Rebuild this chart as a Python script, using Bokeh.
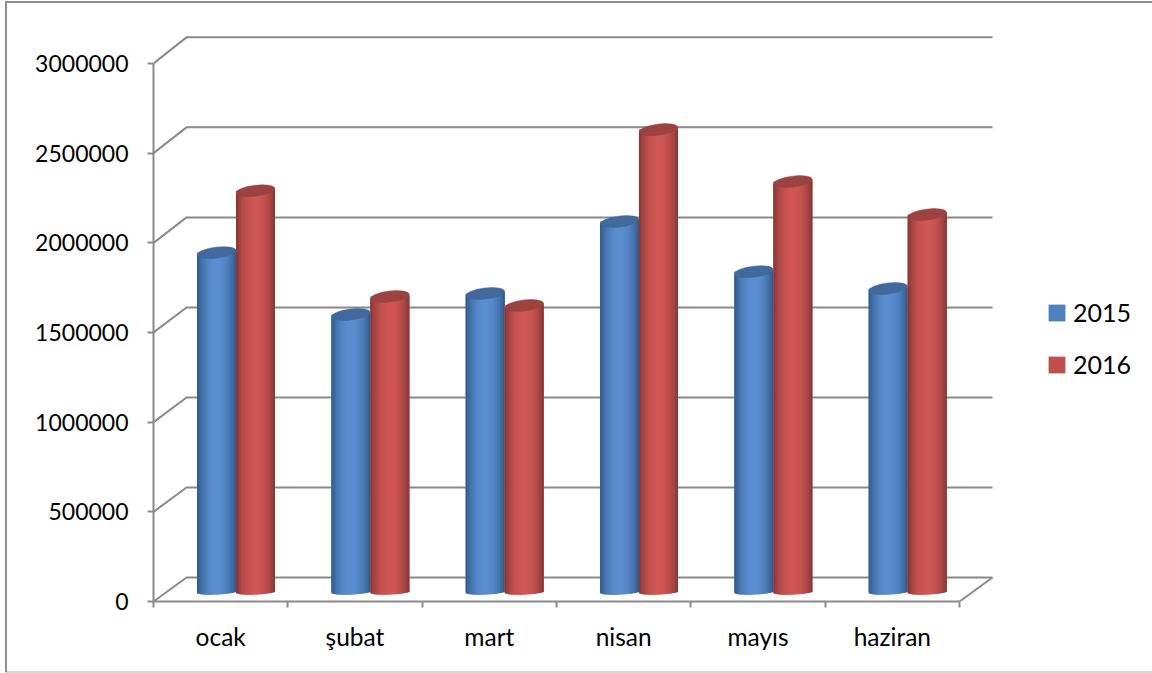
import math
from bokeh.embed import file_html
from bokeh.resources import INLINE
from bokeh.plotting import figure
from bokeh.models import (FixedTicker, LinearAxis, Range1d, Legend, LegendItem,
                          BasicTickFormatter)

categories = ["ocak", "şubat", "mart", "nisan", "mayıs", "haziran"]
series_2015 = [1873000, 1528000, 1645000, 2046000, 1767000, 1673000]
series_2016 = [2218000, 1628000, 1578000, 2559000, 2269000, 2085000]
series_names = ["2015", "2016"]
y_ticks = [0, 500000, 1000000, 1500000, 2000000, 2500000, 3000000]

W, H = 1152, 673
X0, X1 = 153, 959      # front floor edge in page pixels
Y0, Y3M = 601, 63      # value 0 and value 3000000 in page pixels
PX_X = (X1 - X0) / len(categories)
PX_Y = (Y0 - Y3M) / 3000000
DEPTH_X, DEPTH_Y = 33 / PX_X, 24 / PX_Y
BACK_SCALE = 1.004
AXIS_C = "#8a8a8a"
FONT = "Lato"
EDGE = "#8e8e8e"

p = figure(width=W, height=H, output_backend="svg", toolbar_location=None,
           x_range=Range1d(0, (W - X0) / PX_X), y_range=Range1d(0, Y0 / PX_Y),
           x_axis_type=None, y_axis_type=None,
           min_border_left=X0, min_border_right=0, min_border_top=0,
           min_border_bottom=H - Y0)
# outer border of the chart area lies outside the plot frame, so it is painted behind the canvas
p.styles = {
    "position": "absolute", "left": "0px", "top": "0px",
    "background": (f"linear-gradient({EDGE},{EDGE}) 5px 2px/2px 670px no-repeat,"
                   f"linear-gradient({EDGE},{EDGE}) 5px 1px/1147px 2px no-repeat,"
                   "linear-gradient(#d8d8d8,#d8d8d8) 5px 671px/1147px 2px no-repeat,"
                   "white"),
}
p.grid.visible = False
p.outline_line_color = None
p.background_fill_alpha = 0
p.border_fill_alpha = 0

# walls and floor
for t in y_ticks:
    back = t * BACK_SCALE + DEPTH_Y
    p.line([0, DEPTH_X, 6 + DEPTH_X], [t, back, back], line_color=AXIS_C, line_width=2)
p.line([6, 6 + DEPTH_X], [0, DEPTH_Y], line_color=AXIS_C, line_width=2)

# axes
xa = LinearAxis(ticker=FixedTicker(ticks=[i + 0.5 for i in range(6)],
                                   minor_ticks=list(range(7))),
                major_label_overrides={i + 0.5: c for i, c in enumerate(categories)},
                bounds=(0, 6))
xa.axis_line_color = AXIS_C
xa.axis_line_width = 2
xa.major_tick_line_color = None
xa.major_tick_in = 0
xa.major_tick_out = 0
xa.minor_tick_line_color = AXIS_C
xa.minor_tick_line_width = 2
xa.minor_tick_in = 0
xa.minor_tick_out = 6
xa.major_label_standoff = 14
xa.major_label_text_font = FONT
xa.major_label_text_font_size = "24.5px"
xa.major_label_text_color = "black"
p.add_layout(xa, "below")

ya = LinearAxis(ticker=FixedTicker(ticks=y_ticks),
                formatter=BasicTickFormatter(use_scientific=False),
                bounds=(0, 3000000))
ya.axis_line_color = AXIS_C
ya.axis_line_width = 2
ya.major_tick_line_color = AXIS_C
ya.major_tick_line_width = 2
ya.major_tick_in = 0
ya.major_tick_out = 6
ya.minor_tick_line_color = None
ya.major_label_standoff = 19
ya.major_label_text_font = FONT
ya.major_label_text_font_size = "23px"
ya.major_label_text_color = "black"
p.add_layout(ya, "left")

# cylinders
BAR_W = 39 / PX_X
GAP = 0.614
BASE_TOP = 13 / PX_Y
BASE_BOTTOM = 9.5 / PX_Y
TILT = 0.12
A_PX, B_PX, B_BOTTOM_PX = 19.5, 5.5, 2.5
N = 26


def shade(rgb_dark, rgb_light, t):
    k = math.sin(math.pi * t) ** 0.7
    return "#%02x%02x%02x" % tuple(int(d + (l - d) * k) for d, l in zip(rgb_dark, rgb_light))


def cylinder(xc, value, dark, light, flat, cap):
    top = BASE_TOP + value
    flat_r = p.quad(left=[xc - BAR_W / 2], right=[xc + BAR_W / 2], top=[top], bottom=[BASE_BOTTOM],
                    fill_color=flat, line_color=None)
    left, right, tops, bottoms, colors = [], [], [], [], []
    for i in range(N):
        t0, t1 = i / N, (i + 1) / N
        tm = (t0 + t1) / 2
        u = 2 * tm - 1
        left.append(xc - BAR_W / 2 + BAR_W * t0)
        # each strip runs one strip further so that no seam shows between neighbours
        right.append(xc - BAR_W / 2 + BAR_W * min(1, t1 + 1 / N))
        tops.append(top + TILT * A_PX * u / PX_Y)
        bottoms.append(BASE_BOTTOM + (0.05 * A_PX * u - B_BOTTOM_PX * math.sqrt(max(0, 1 - u * u))) / PX_Y)
        colors.append(shade(dark, light, tm))
    p.quad(left=left, right=right, top=tops, bottom=bottoms,
           fill_color=colors, line_color=None)
    p.ellipse(x=[xc], y=[top], width=BAR_W, height=2 * B_PX / PX_Y,
              angle=math.radians(7), fill_color=cap, line_color=cap, line_width=0.5)
    return flat_r


BLUE_D, BLUE_L = (46, 84, 132), (90, 142, 208)
RED_D, RED_L = (128, 52, 50), (208, 88, 86)
r15 = r16 = None
for i in range(len(categories)):
    a = cylinder(i + GAP - BAR_W / 2, series_2015[i], BLUE_D, BLUE_L, "#4f81bd", "#41699c")
    b = cylinder(i + GAP + BAR_W / 2, series_2016[i], RED_D, RED_L, "#c0504d", "#9c4341")
    r15 = r15 or a
    r16 = r16 or b

# legend
legend = Legend(items=[LegendItem(label=series_names[0], renderers=[r15]),
                       LegendItem(label=series_names[1], renderers=[r16])],
                location=(1046 - X0, H - (H - Y0) - 379))
legend.glyph_width = 21
legend.glyph_height = 21
legend.label_text_font = FONT
legend.label_text_font_size = "25px"
legend.label_text_color = "black"
legend.label_standoff = 6
legend.label_height = 26
legend.spacing = 22
legend.padding = 10
legend.margin = 0
legend.background_fill_alpha = 0
legend.border_line_color = None
p.add_layout(legend, "center")

open("out.html", "w").write(file_html(p, INLINE))
